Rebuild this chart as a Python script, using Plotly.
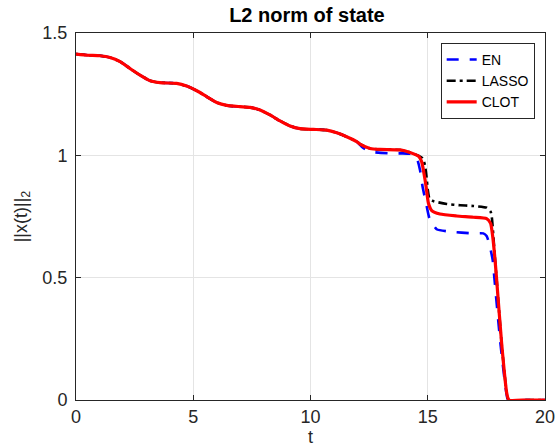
import plotly.graph_objects as go

# ---- data ----
t_common = [0.0, 0.5, 1.02, 1.45, 1.88, 2.30, 2.73, 3.16, 3.58, 4.29, 4.72, 5.15, 5.57,
            6.0, 6.43, 6.99, 7.42, 7.85, 8.27, 8.70, 9.13, 9.55, 10.12, 10.69,
            11.12, 11.54, 11.97]
y_common = [1.414, 1.409, 1.407, 1.400, 1.383, 1.355, 1.328, 1.305, 1.297, 1.294, 1.283,
            1.264, 1.240, 1.216, 1.204, 1.199, 1.196, 1.185, 1.165, 1.141, 1.120,
            1.109, 1.106, 1.103, 1.092, 1.076, 1.056]

t_clot_tail = [12.11, 12.54, 12.96, 13.82, 14.24, 14.60, 14.74, 14.84, 14.93, 15.03,
               15.17, 15.52, 16.23, 16.94, 17.51, 17.68, 17.77, 17.87, 17.94, 18.15,
               18.37, 18.46, 19.2, 20.0]
y_clot_tail = [1.046, 1.028, 1.024, 1.022, 1.012, 0.997, 0.974, 0.926, 0.872, 0.804,
               0.774, 0.760, 0.752, 0.747, 0.741, 0.722, 0.668, 0.572, 0.490, 0.232,
               0.027, 0.0, 0.0, 0.0]

t_lasso_tail = [12.11, 12.54, 12.96, 13.82, 14.24, 14.60, 14.78, 14.88, 14.95, 15.0,
                15.07, 15.24, 15.81, 16.38, 16.94, 17.51, 17.68, 17.73, 17.79, 17.87,
                17.94, 18.15, 18.37, 18.46, 19.2, 20.0]
y_lasso_tail = [1.046, 1.028, 1.024, 1.022, 1.012, 0.999, 0.988, 0.960, 0.910, 0.860,
                0.824, 0.813, 0.801, 0.796, 0.793, 0.786, 0.770, 0.749, 0.680, 0.575,
                0.490, 0.232, 0.027, 0.0, 0.0, 0.0]

t_en_tail = [12.25, 12.54, 13.39, 13.89, 14.38, 14.56, 14.67, 14.78, 14.93, 15.07,
             15.38, 15.95, 16.94, 17.37, 17.51, 17.62, 17.77, 17.84, 18.10, 18.35,
             18.43, 19.2, 20.0]
y_en_tail = [1.030, 1.015, 1.008, 1.008, 1.004, 0.981, 0.940, 0.872, 0.804, 0.743,
             0.698, 0.688, 0.681, 0.681, 0.670, 0.640, 0.572, 0.500, 0.230, 0.030,
             0.0, 0.0, 0.0]

series_names = ["EN", "LASSO", "CLOT"]
x_ticks = [0, 5, 10, 15, 20]
y_ticks = [0, 0.5, 1, 1.5]

FONT = "Liberation Sans, Arial, Helvetica, sans-serif"
AX = "#262626"

fig = go.Figure()
fig.add_trace(go.Scatter(x=t_common + t_en_tail, y=y_common + y_en_tail, mode="lines",
                         name=series_names[0], cliponaxis=True,
                         line=dict(color="#0000ff", width=2.6, dash="12px,11px",
                                   shape="spline", smoothing=0.5)))
fig.add_trace(go.Scatter(x=t_common + t_lasso_tail, y=y_common + y_lasso_tail, mode="lines",
                         name=series_names[1], cliponaxis=True,
                         line=dict(color="#000000", width=2.6, dash="9px,4px,3px,4px",
                                   shape="spline", smoothing=0.5)))
fig.add_trace(go.Scatter(x=t_common + t_clot_tail, y=y_common + y_clot_tail, mode="lines",
                         name=series_names[2], cliponaxis=False,
                         line=dict(color="#ff0000", width=3.2,
                                   shape="spline", smoothing=0.5)))

axis_common = dict(showline=True, linecolor=AX, linewidth=1, mirror="ticks",
                   ticks="inside", ticklen=5, tickcolor=AX, showgrid=True,
                   gridcolor="#e4e4e4", gridwidth=1, zeroline=False, automargin=False,
                   ticklabeloverflow="allow",
                   tickfont=dict(family=FONT, size=18, color=AX))

fig.update_layout(
    width=555, height=447,
    margin=dict(l=76, r=10, t=33, b=47),
    paper_bgcolor="white", plot_bgcolor="white",
    font=dict(family=FONT, color=AX),
    title=dict(text="<b>L2 norm of state</b>", x=0.553, xanchor="center",
               y=0.966, yanchor="middle", yref="container",
               font=dict(family=FONT, size=20, color="#000000")),
    xaxis=dict(range=[0, 20], tickvals=x_ticks, ticktext=[str(v) for v in x_ticks],
               title=dict(text="t", font=dict(family=FONT, size=18, color=AX), standoff=0),
               **axis_common),
    yaxis=dict(range=[0, 1.5], tickvals=y_ticks, ticktext=["0", "0.5", "1", "1.5"],
               ticklabelstandoff=4,
               title=dict(text="||x(t)||<sub>2</sub>", font=dict(family=FONT, size=18, color=AX),
                          standoff=10),
               **axis_common),
    legend=dict(x=0.978, y=0.973, xanchor="right", yanchor="top",
                bgcolor="white", bordercolor=AX, borderwidth=1,
                font=dict(family=FONT, size=14, color="#000000"),
                tracegroupgap=0),
    showlegend=True,
)

fig.write_html("out.html")
